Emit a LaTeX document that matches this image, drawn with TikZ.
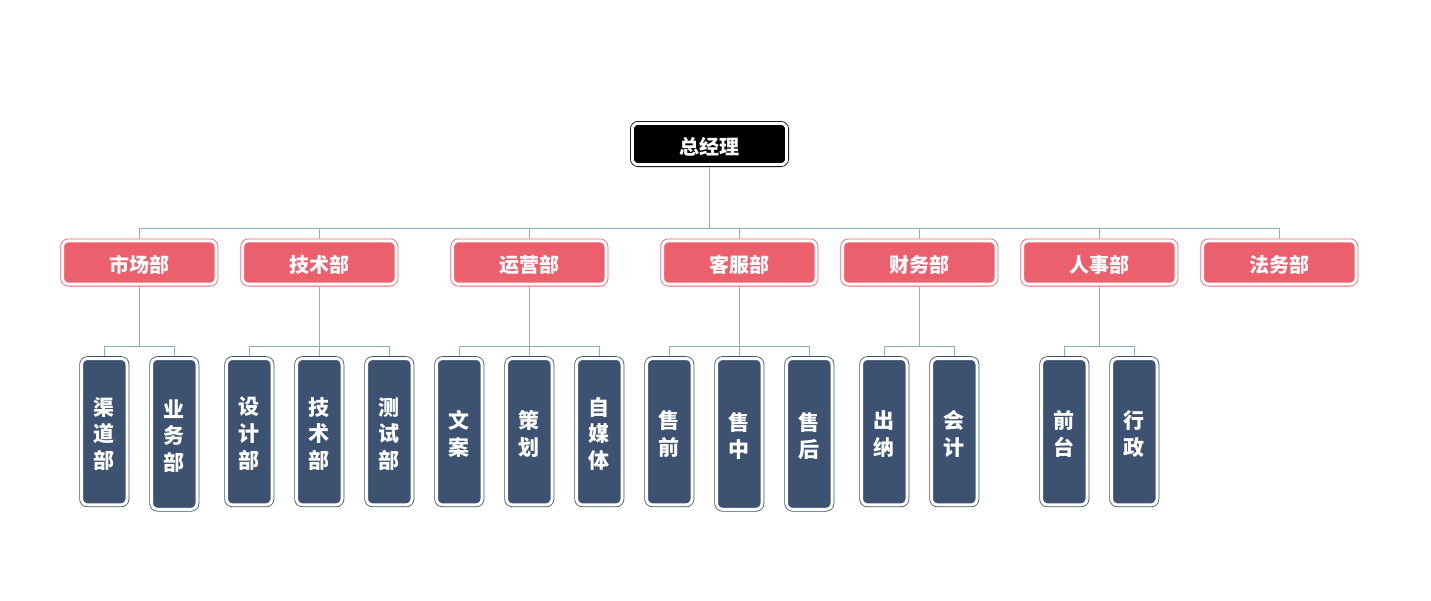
\documentclass[tikz,border=0pt]{standalone}
\usepackage{fontspec}
\setmainfont{Noto Sans CJK SC}
\definecolor{deptred}{HTML}{EC5F6D}
\definecolor{leafblue}{HTML}{3D5271}
\definecolor{linkc}{HTML}{8AAFBF}
\begin{document}
\begin{tikzpicture}[x=1pt,y=-1pt,
  box/.style={rectangle, rounded corners=6pt, line width=0.8pt, double=white,
    double distance=3pt, outer sep=2.3pt, inner sep=0pt},
  topbox/.style={box, draw=black, fill=black, minimum width=154.4pt, minimum height=41.4pt},
  deptbox/.style={box, draw=deptred, fill=deptred, minimum width=153.4pt, minimum height=43.4pt},
  leafbox/.style={box, draw=leafblue, fill=leafblue, minimum width=45.4pt, minimum height=146.4pt},
  tallleaf/.style={leafbox, minimum height=150.8pt},
  htxt/.style={text=white, inner sep=0pt, font=\fontsize{20}{27}\selectfont\bfseries, yshift=-2.5pt},
  vtxt/.style={text=white, inner sep=0pt, align=center, font=\fontsize{21}{26.8}\selectfont\bfseries, yshift=-2.2pt},
  link/.style={draw=linkc, line width=0.9pt}]
\useasboundingbox (0,0) rectangle (1431,600);
\coordinate (bus) at (0,228.5);
\coordinate (lbus) at (0,346.5);

\node[topbox] (top) at (709.5,144) {};
\node[htxt] (ttop) at (top.center) {总经理};

\foreach \n/\x/\t in {d1/139.3/市场部, d2/319.3/技术部, d3/529.3/运营部, d4/739.3/客服部,
                      d5/919.3/财务部, d6/1099.3/人事部, d7/1279.3/法务部} {
  \node[deptbox] (\n) at (\x,262.5) {};
  \node[htxt] (t\n) at (\n.center) {\t};
}

\foreach \n/\x/\s/\t in {l11/104.3/leafbox/{渠\\道\\部}, l12/174.3/tallleaf/{业\\务\\部},
    l21/249.3/leafbox/{设\\计\\部}, l22/319.3/leafbox/{技\\术\\部}, l23/389.3/leafbox/{测\\试\\部},
    l31/459.3/leafbox/{文\\案}, l32/529.3/leafbox/{策\\划}, l33/599.3/leafbox/{自\\媒\\体},
    l41/669.3/leafbox/{售\\前}, l42/739.3/tallleaf/{售\\中}, l43/809.3/tallleaf/{售\\后},
    l51/884.3/leafbox/{出\\纳}, l52/954.3/leafbox/{会\\计},
    l61/1064.3/leafbox/{前\\台}, l62/1134.3/leafbox/{行\\政}} {
  \node[\s, anchor=north] (\n) at (\x,356.2) {};
  \node[vtxt] (t\n) at (\n.center) {\t};
}

\foreach \d in {d1,d2,d3,d4,d5,d6,d7}
  \path[link] (top.south) -- (top.south |- bus) -| (\d.north);

\foreach \d/\l in {d1/l11,d1/l12,d2/l21,d2/l22,d2/l23,d3/l31,d3/l32,d3/l33,
                   d4/l41,d4/l42,d4/l43,d5/l51,d5/l52,d6/l61,d6/l62}
  \path[link] (\d.south) -- (\d.south |- lbus) -| (\l.north);
\end{tikzpicture}
\end{document}
